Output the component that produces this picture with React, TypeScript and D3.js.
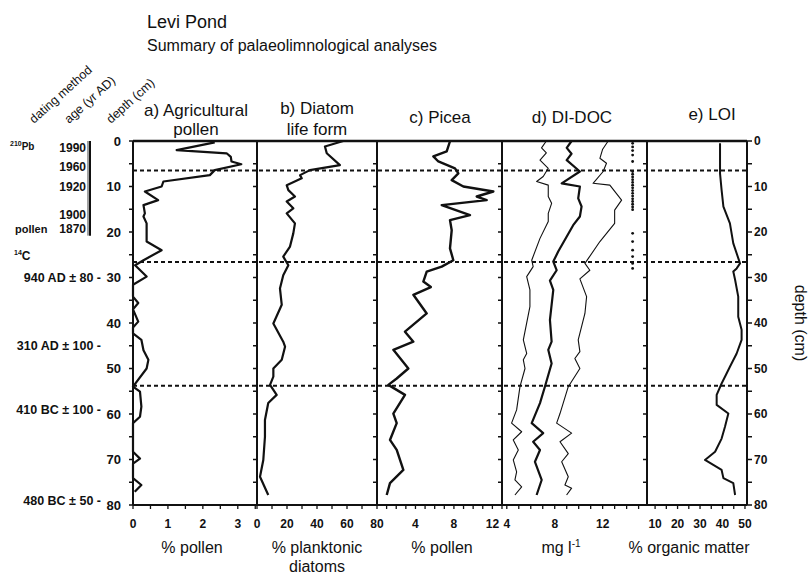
import React from 'react';
import * as d3 from 'd3';

type Pt = [number, number]; // [depth (cm), value]

// a) Agricultural pollen (% pollen)
const agriPollen: Pt[] = [
  [0.3, 2.34], [2, 1.25], [2.7, 2.68], [3.5, 2.8], [4.5, 2.82], [5.1, 3.1], [6.4, 2.34], [7.5, 2.2],
  [8.9, 0.87], [10, 0.82], [11.1, 0.34], [13, 0.72], [14.1, 0.3], [15.9, 0.34], [16.6, 0.3], [18.1, 0.39],
  [22.1, 0.39], [24, 0.82], [26.2, 0.3], [27.3, 0.06], [29.8, 0.39], [31.6, 0], [34.2, 0], [35.6, 0.15],
  [37, 0], [39.7, 0.15], [41, 0], [42.3, 0], [43.7, 0.24], [46, 0.3], [48.1, 0.44], [50, 0.39], [54, 0],
  [55.1, 0.2], [58.4, 0.24], [60.6, 0.2], [62, 0], [68.3, 0], [69.8, 0.2], [70.9, 0], [74.1, 0],
  [75.6, 0.24], [77.1, 0.05],
];

// b) Diatom life form (% planktonic diatoms)
const diatomPlanktonic: Pt[] = [
  [0, 57.5], [1.2, 45.3], [2.7, 46.5], [5.3, 55.3], [6.4, 35.3], [7.5, 28.7], [8.2, 29.8], [9.7, 19.8],
  [10.8, 20.9], [12.2, 25.3], [13.3, 19.8], [14.8, 24.2], [15.9, 19.8], [18.1, 25.3], [20.3, 24.2],
  [23.2, 22], [25.4, 17.5], [27.3, 20.9], [29.5, 17.5], [32.4, 15.3], [36, 16.5], [40.1, 10.9],
  [44.1, 17.5], [45.2, 18.7], [48.1, 16.5], [50, 10.9], [51.8, 10.9], [53.6, 8.7], [55.8, 13.1],
  [57.6, 7.5], [61.3, 5.3], [65, 5.3], [70.1, 4.2], [73.8, 2], [77.8, 7.5],
];

// c) Picea (% pollen)
const picea: Pt[] = [
  [0, 7.6], [2.3, 7.25], [3.4, 5.86], [4.5, 6.38], [6, 8.11], [7.1, 8.46], [8.6, 7.77], [10, 8.98],
  [11.1, 12.1], [12.2, 10.37], [13, 11.41], [14.1, 6.73], [16.3, 9.67], [17.4, 7.59], [19.6, 7.77],
  [23.6, 7.59], [26.2, 7.94], [27.6, 6.73], [28.7, 5.17], [30.9, 4.82], [32.1, 5.6], [33.8, 3.78],
  [37.9, 5.17], [41.9, 2.91], [44.1, 3.78], [45.9, 1.7], [50, 3.26], [52.2, 2.05], [53.6, 1.18],
  [55.8, 2.91], [59.9, 1.7], [62, 2.05], [65.7, 1.35], [67.9, 2.05], [72.3, 2.74], [75.2, 1.35],
  [77.8, 1.01],
];

// d) DI-DOC (mg/l): lower error bound, estimate, upper error bound
const docLower: Pt[] = [
  [0, 7.3], [1.5, 6.9], [2.6, 7.3], [4.2, 6.77], [6, 7.46], [7.8, 7.04], [8.9, 6.49], [9.7, 7.46],
  [12.2, 7.46], [13.7, 7.74], [15.9, 7.46], [17.7, 7.46], [21.4, 6.77], [26.2, 6.08], [27.6, 6.2],
  [29.8, 5.66], [32.7, 5.93], [36.4, 5.93], [43.7, 5.38], [46.7, 5.66], [48.1, 5.38], [50, 5.52],
  [54, 5.1], [59.1, 4.82], [62, 4.4], [63.9, 5.24], [65.7, 4.54], [67.9, 4.96], [70.1, 4.54],
  [72.7, 4.82], [74.5, 4.68], [76, 5.24], [77.8, 4.68],
];
const docEstimate: Pt[] = [
  [0, 9.41], [1.5, 9.0], [2.8, 9.4], [4.2, 9.0], [6.7, 10.1], [9.3, 8.58], [10, 10.1], [12.6, 9.96],
  [14.4, 10.24], [16.6, 10.1], [18.5, 9.54], [24.3, 8.29], [26.5, 7.88], [28.4, 8.16], [30.7, 7.6],
  [32.7, 7.88], [39.3, 7.6], [44.1, 7.74], [45.9, 7.46], [48.9, 7.74], [54, 7.18], [57.6, 6.77],
  [62, 6.08], [64.2, 7.04], [66.1, 6.2], [67.9, 6.77], [70.5, 6.35], [74.5, 6.91], [77.8, 6.49],
];
const docUpper: Pt[] = [
  [0, 12.46], [1.8, 12.0], [3.8, 11.77], [4.9, 12.32], [6.7, 12.04], [9.3, 11.2], [9.7, 12.6],
  [13, 13.58], [15.2, 13.0], [18.1, 13.0], [22.1, 11.77], [26.9, 10.52], [28.4, 10.93], [30.3, 10.1],
  [34.2, 10.66], [37.9, 10.52], [43.7, 9.96], [46.3, 10.1], [47.8, 9.68], [50, 10.1], [54, 9.13],
  [59.9, 8.44], [62, 8.16], [64.2, 9.41], [66.1, 8.44], [68.7, 9.13], [70.5, 8.58], [73.8, 9.13],
  [75.6, 8.85], [76.3, 9.41], [77.8, 8.99],
];
const sampleDepths: number[] = [
  0.5, 1.3, 2.1, 3.1, 4.5, 6.7, 7.3, 7.9, 8.5, 9.1, 9.7, 10.3, 10.9, 11.5, 12.1, 12.7, 13.3, 13.9,
  14.5, 15.1, 20.3, 22.1, 24, 25.4, 26.9, 28,
];
const sampleValue = 14.5;

// e) LOI (% organic matter)
const loi: Pt[] = [
  [0.5, 38.9], [7.1, 38.9], [10.8, 39.6], [14.4, 40.4], [18.1, 43.3], [22.5, 44.8], [26.9, 47.8],
  [28, 46.3], [28.7, 44.8], [30.5, 45.6], [34.2, 47.0], [38.6, 47.0], [41.5, 48.5], [43.7, 48.5],
  [46.7, 46.3], [49.6, 43.3], [51.8, 41.1], [53.3, 39.6], [55.8, 37.4], [58, 37.4], [59.9, 42.6],
  [62.8, 41.1], [65.4, 39.6], [68.3, 36.7], [70.1, 32.2], [71.2, 35.9], [72.3, 39.6], [74.1, 40.4],
  [75.2, 44.8], [77.8, 45.6],
];

const zoneDepths = [6.5, 26.6, 53.8];
const depthTicks = [0, 10, 20, 30, 40, 50, 60, 70, 80];
const depthMinorTicks = [0, 5, 10, 15, 20, 25, 30, 35, 40, 45, 50, 55, 60, 65, 70, 75, 80];

const ageLabels = [
  { depth: 1.5, text: '1990' },
  { depth: 5.7, text: '1960' },
  { depth: 10.1, text: '1920' },
  { depth: 16.3, text: '1900' },
  { depth: 19.4, text: '1870' },
];
const c14Labels = [
  { depth: 30.1, text: '940 AD ± 80 -' },
  { depth: 45, text: '310 AD ± 100 -' },
  { depth: 59.1, text: '410 BC ± 100 -' },
  { depth: 79.1, text: '480 BC ± 50 -' },
];
const bracketDepth = [0, 20.8];

const FONT = 'Liberation Sans, Arial, Helvetica, sans-serif';
const TOP = 141;
const BOTTOM = 505;
const LEFT = 133;
const RIGHT = 747;

const y = d3.scaleLinear().domain([0, 80]).range([TOP, BOTTOM]);

type Panel = {
  x0: number;
  x1: number;
  domain: [number, number];
  ticks: number[];
  minor: number[];
  title: string[];
  titleX: number;
  titleY: number[];
  label: string[];
  labelX: number;
};

const panels: Panel[] = [
  {
    x0: 133, x1: 257, domain: [0, 3.55], ticks: [0, 1, 2, 3],
    minor: [0, 0.5, 1, 1.5, 2, 2.5, 3, 3.5],
    title: ['a) Agricultural', 'pollen'], titleX: 196, titleY: [116, 135],
    label: ['% pollen'], labelX: 192,
  },
  {
    x0: 257, x1: 377, domain: [0, 80], ticks: [0, 20, 40, 60, 80],
    minor: [0, 10, 20, 30, 40, 50, 60, 70, 80],
    title: ['b) Diatom', 'life form'], titleX: 317, titleY: [114, 135],
    label: ['% planktonic', 'diatoms'], labelX: 317,
  },
  {
    x0: 377, x1: 502, domain: [0, 13], ticks: [4, 8, 12],
    minor: [1, 2, 3, 4, 5, 6, 7, 8, 9, 10, 11, 12, 13],
    title: ['c) Picea'], titleX: 440, titleY: [123],
    label: ['% pollen'], labelX: 442,
  },
  {
    x0: 502, x1: 647, domain: [3.6, 15.7], ticks: [4, 8, 12],
    minor: [4, 5, 6, 7, 8, 9, 10, 11, 12, 13, 14, 15],
    title: ['d) DI-DOC'], titleX: 572, titleY: [123],
    label: ['mg l'], labelX: 561,
  },
  {
    x0: 647, x1: 747, domain: [6.4, 50.9], ticks: [10, 20, 30, 40, 50],
    minor: [10, 15, 20, 25, 30, 35, 40, 45, 50],
    title: ['e) LOI'], titleX: 712, titleY: [120],
    label: ['% organic matter'], labelX: 689,
  },
];

const scales = panels.map((p) => d3.scaleLinear().domain(p.domain).range([p.x0, p.x1]));

const mkLine = (sx: d3.ScaleLinear<number, number>) =>
  d3.line<Pt>().x((d) => sx(d[1])).y((d) => y(d[0]));

export default function App() {
  const [sa, sb, sc, sd, se] = scales;
  return (
    <svg
      width={808}
      height={574}
      viewBox="0 0 808 574"
      style={{ position: 'absolute', left: 0, top: 0, background: '#fff' }}
      fontFamily={FONT}
    >
      <rect x={0} y={0} width={808} height={574} fill="#fff" />
      {/* titles */}
      <text x={147} y={28} fontSize={18} fill="#111">Levi Pond</text>
      <text x={147} y={51} fontSize={16} fill="#111">Summary of palaeolimnological analyses</text>

      {/* rotated column headings */}
      <text transform="translate(34,124) rotate(-42)" fontSize={12.5} fill="#111">dating method</text>
      <text transform="translate(69,124) rotate(-42)" fontSize={12.5} fill="#111">age (yr AD)</text>
      <text transform="translate(111,124) rotate(-42)" fontSize={12.5} fill="#111">depth (cm)</text>

      {/* panel titles */}
      {panels.map((p, i) =>
        p.title.map((t, j) => (
          <text key={`t${i}${j}`} x={p.titleX} y={p.titleY[j]} fontSize={17} textAnchor="middle" fill="#111">
            {t}
          </text>
        ))
      )}

      {/* dating labels */}
      <text x={10} y={y(1.5)} dy="0.35em" fontSize={10} fontWeight="bold" fill="#111">
        <tspan fontSize={7} dy="-0.3em">210</tspan>
        <tspan dy="0.4em">Pb</tspan>
      </text>
      <text x={15} y={y(19.4)} dy="0.35em" fontSize={11} fontWeight="bold" fill="#111">pollen</text>
      <text x={14} y={y(25.7)} dy="0.35em" fontSize={12} fontWeight="bold" fill="#111">
        <tspan fontSize={7} dy="-0.4em">14</tspan>
        <tspan dy="0.4em">C</tspan>
      </text>
      {ageLabels.map((a) => (
        <text key={a.text} x={86} y={y(a.depth)} dy="0.35em" fontSize={12} fontWeight="bold" textAnchor="end" fill="#111">
          {a.text}
        </text>
      ))}
      <line x1={90} x2={90} y1={y(bracketDepth[0])} y2={y(bracketDepth[1])} stroke="#111" strokeWidth={2} />
      <line x1={88} x2={88} y1={y(bracketDepth[0])} y2={y(bracketDepth[1])} stroke="#111" strokeWidth={0.8} />
      {c14Labels.map((a) => (
        <text key={a.text} x={101} y={y(a.depth)} dy="0.35em" fontSize={12.5} fontWeight="bold" textAnchor="end" fill="#111">
          {a.text}
        </text>
      ))}

      {/* left depth axis labels */}
      {depthTicks.map((d) => (
        <text key={`l${d}`} x={121} y={y(d)} dy="0.35em" fontSize={13} fontWeight="bold" textAnchor="end" fill="#111">
          {d}
        </text>
      ))}
      {/* right depth axis labels */}
      {depthTicks.map((d) => (
        <text key={`r${d}`} x={754} y={y(d)} dy="0.35em" fontSize={12} fontWeight="bold" fill="#111">
          {d}
        </text>
      ))}
      <text transform={`translate(795,${y(40)}) rotate(90)`} fontSize={16} textAnchor="middle" fill="#111">
        depth (cm)
      </text>

      {/* vertical-axis ticks on panel boundaries */}
      {panels.map((p, i) =>
        depthMinorTicks.map((d) => (
          <line key={`vt${i}-${d}`} x1={p.x0 - 4} x2={p.x0} y1={y(d)} y2={y(d)} stroke="#111" strokeWidth={1.5} />
        ))
      )}
      {depthMinorTicks.map((d) => (
        <line key={`rt${d}`} x1={RIGHT} x2={RIGHT + 5} y1={y(d)} y2={y(d)} stroke="#111" strokeWidth={1.5} />
      ))}

      {/* zone boundaries */}
      {zoneDepths.map((d) => (
        <line key={`z${d}`} x1={LEFT} x2={RIGHT} y1={y(d)} y2={y(d)} stroke="#111" strokeWidth={2} strokeDasharray="4 3" />
      ))}

      {/* curves */}
      <path d={mkLine(sa)(agriPollen) || ''} fill="none" stroke="#111" strokeWidth={2.2} strokeLinejoin="round" />
      <path d={mkLine(sb)(diatomPlanktonic) || ''} fill="none" stroke="#111" strokeWidth={2.2} strokeLinejoin="round" />
      <path d={mkLine(sc)(picea) || ''} fill="none" stroke="#111" strokeWidth={2.4} strokeLinejoin="round" />
      <path d={mkLine(sd)(docLower) || ''} fill="none" stroke="#111" strokeWidth={1.1} strokeLinejoin="round" />
      <path d={mkLine(sd)(docEstimate) || ''} fill="none" stroke="#111" strokeWidth={2.2} strokeLinejoin="round" />
      <path d={mkLine(sd)(docUpper) || ''} fill="none" stroke="#111" strokeWidth={1.1} strokeLinejoin="round" />
      {sampleDepths.map((d) => (
        <circle key={`s${d}`} cx={sd(sampleValue)} cy={y(d)} r={1.4} fill="#111" />
      ))}
      <path d={mkLine(se)(loi) || ''} fill="none" stroke="#111" strokeWidth={2} strokeLinejoin="round" />

      {/* frame */}
      {panels.map((p, i) => (
        <line key={`pv${i}`} x1={p.x0} x2={p.x0} y1={TOP} y2={BOTTOM} stroke="#111" strokeWidth={2} />
      ))}
      <line x1={RIGHT} x2={RIGHT} y1={TOP} y2={BOTTOM} stroke="#111" strokeWidth={2} />
      <line x1={LEFT} x2={RIGHT} y1={TOP} y2={TOP} stroke="#111" strokeWidth={2.5} />
      <line x1={LEFT} x2={RIGHT} y1={BOTTOM} y2={BOTTOM} stroke="#111" strokeWidth={2} />

      {/* bottom axes */}
      {panels.map((p, i) => (
        <g key={`ba${i}`}>
          {p.minor.map((v) => (
            <line key={`m${v}`} x1={scales[i](v)} x2={scales[i](v)} y1={BOTTOM} y2={BOTTOM + 4} stroke="#111" strokeWidth={1.3} />
          ))}
          {p.ticks.map((v) => (
            <text key={`tl${v}`} x={scales[i](v)} y={528} fontSize={12} fontWeight="bold" textAnchor="middle" fill="#111">
              {v}
            </text>
          ))}
          {p.label.map((l, j) => (
            <text key={`bl${j}`} x={p.labelX} y={553 + j * 19} fontSize={16} textAnchor="middle" fill="#111">
              {l}
              {i === 3 ? (
                <tspan fontSize={10} dy="-0.6em">-1</tspan>
              ) : null}
            </text>
          ))}
        </g>
      ))}
    </svg>
  );
}
